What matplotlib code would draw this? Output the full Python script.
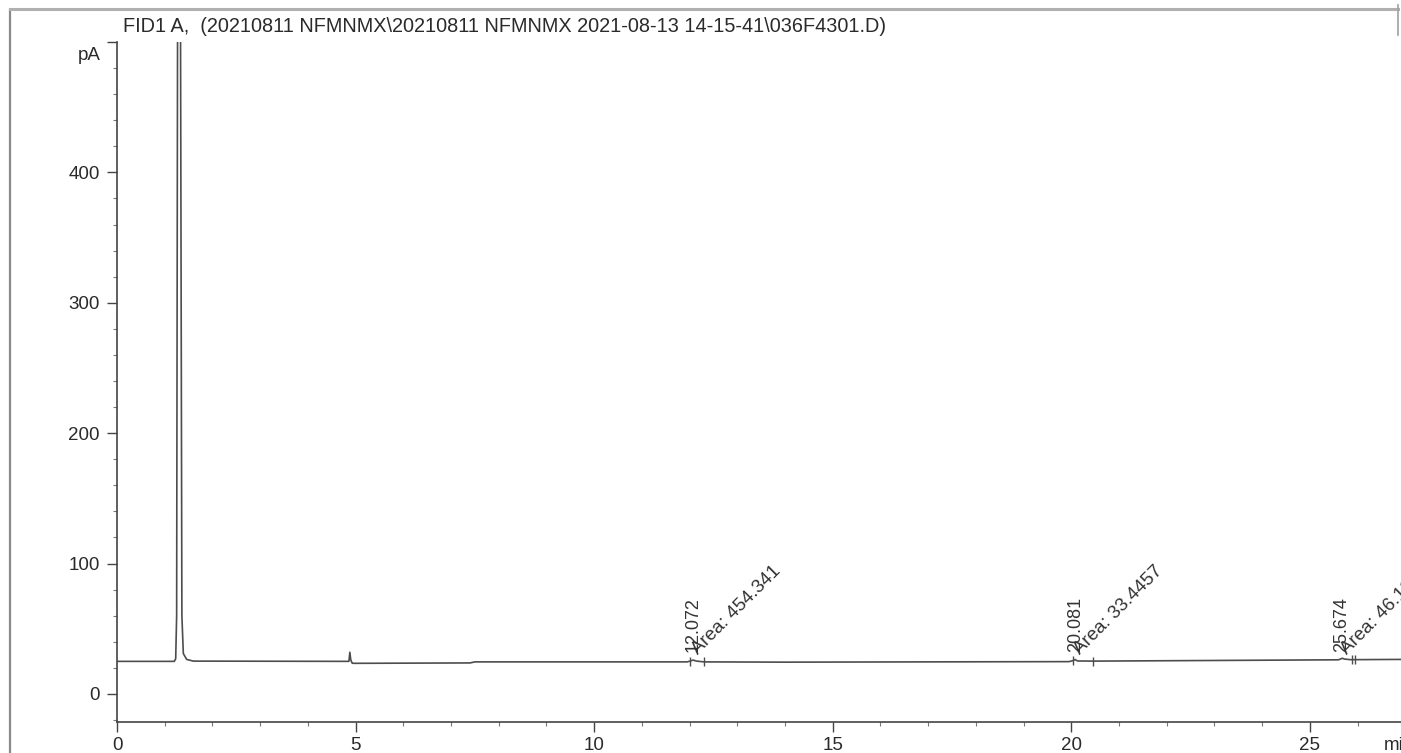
import matplotlib.pyplot as plt
from matplotlib.lines import Line2D
from matplotlib.ticker import MultipleLocator
from matplotlib.transforms import blended_transform_factory

plt.rcParams['font.family'] = ['Liberation Sans', 'DejaVu Sans']

title = "FID1 A,  (20210811 NFMNMX\\20210811 NFMNMX 2021-08-13 14-15-41\\036F4301.D)"

# trace (min, pA)
time_min = [0.0, 1.20, 1.23, 1.25, 1.27, 1.33, 1.36, 1.39, 1.46, 1.6,
            4.86, 4.88, 4.90, 4.93, 4.97, 7.40, 7.50, 11.95, 12.02, 12.07,
            12.15, 12.30, 14.0, 19.95, 20.04, 20.08, 20.13, 20.50, 25.60,
            25.65, 25.68, 25.72, 25.85, 26.91]
signal_pa = [25.0, 25.0, 27.0, 60.0, 530.0, 530.0, 60.0, 31.0, 26.5, 25.2,
             25.0, 32.0, 26.0, 23.6, 23.5, 23.8, 24.6, 24.6, 25.3, 26.0,
             25.2, 24.6, 24.4, 24.8, 25.6, 26.4, 25.3, 25.2, 26.2,
             26.9, 27.4, 26.8, 26.3, 26.5]

# integrated peaks
peak_rt = [12.072, 20.081, 25.674]
peak_area = ["454.341", "33.4457", "46.1872"]

# integration start/stop markers
mark_t = [12.00, 12.30, 20.03, 20.45, 25.88, 25.94]
mark_y = [24.6, 24.6, 25.5, 25.2, 26.3, 26.3]

fig = plt.figure(figsize=(14.01, 7.53), dpi=100)
ax = fig.add_axes([117 / 1401, 1 - 722 / 753, 1 - 117 / 1401, (722 - 42) / 753])

ax.plot(time_min, signal_pa, color='#4d4d4d', lw=1.2)
ax.vlines(mark_t, [y - 3.5 for y in mark_y], [y + 3.5 for y in mark_y],
          color='#4d4d4d', lw=1.0)

for rt, area in zip(peak_rt, peak_area):
    ax.text(rt, 32, f"{rt:.3f}", rotation=90, ha='center', va='bottom',
            fontsize=13, color='#333333')
    ax.text(rt + 0.17, 28, f"Area: {area}", rotation=45, rotation_mode='anchor',
            ha='left', va='bottom', fontsize=13.5, color='#333333', clip_on=False)

ax.set_xlim(0, 26.91)
ax.set_ylim(-21.5, 500)
ax.set_xticks([0, 5, 10, 15, 20, 25])
ax.set_yticks([0, 100, 200, 300, 400, 500])
ax.set_yticklabels(['0', '100', '200', '300', '400', ''])
ax.xaxis.set_minor_locator(MultipleLocator(1))
ax.yaxis.set_minor_locator(MultipleLocator(20))

for s in ['top', 'right']:
    ax.spines[s].set_visible(False)
for s in ['left', 'bottom']:
    ax.spines[s].set_color('#444444')
    ax.spines[s].set_linewidth(1.2)

ax.tick_params(axis='both', which='major', direction='out', length=7.5,
               width=1.0, color='#444444', labelsize=13.5, labelcolor='#2a2a2a')
ax.tick_params(axis='x', which='major', pad=3)
ax.tick_params(axis='y', which='major', pad=5)
ax.tick_params(axis='both', which='minor', direction='out', length=3,
               width=0.8, color='#777777')

tr = blended_transform_factory(ax.transAxes, ax.transData)
ax.text(-0.013, 490, "pA", transform=tr, ha='right', va='center',
        fontsize=13.5, color='#2a2a2a')
trx = blended_transform_factory(ax.transData, ax.transAxes)
ax.text(26.55, -0.022, "min", transform=trx, ha='left', va='top',
        fontsize=13.5, color='#2a2a2a', clip_on=False)

fig.text(123 / 1401, 1 - 27 / 753, title, ha='left', va='center',
         fontsize=14.3, color='#2a2a2a')

# page frame from the printout
fig.add_artist(Line2D([10 / 1401, 10 / 1401], [0, 1 - 10 / 753],
                      transform=fig.transFigure, color='#8a8a8a', lw=1.6))
fig.add_artist(Line2D([10 / 1401, 1398 / 1401], [1 - 9 / 753, 1 - 9 / 753],
                      transform=fig.transFigure, color='#b0b0b0', lw=2.2))
fig.add_artist(Line2D([1398 / 1401, 1398 / 1401], [1 - 5 / 753, 1 - 35 / 753],
                      transform=fig.transFigure, color='#a0a0a0', lw=1.2))

fig.savefig("out.png", dpi=100)
